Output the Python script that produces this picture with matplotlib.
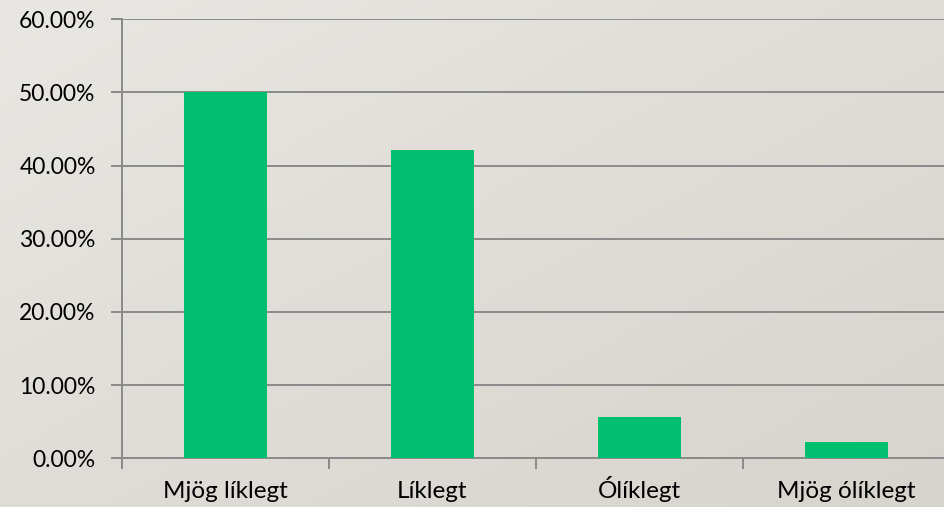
import numpy as np
import matplotlib
matplotlib.use('Agg')
import matplotlib.pyplot as plt
from matplotlib.ticker import FuncFormatter

# Dados do gráfico
categorias = ['Mjög líklegt', 'Líklegt', 'Ólíklegt', 'Mjög ólíklegt']
valores = [50.0, 42.2, 5.6, 2.2]
yticks = [0, 10, 20, 30, 40, 50, 60]

cor_barra = '#00bf6f'
cor_linha = '#8a8a8a'

plt.rcParams['font.family'] = ['Lato', 'DejaVu Sans']

fig = plt.figure(figsize=(9.45, 5.07), dpi=100)

# fundo em degradê
bg = fig.add_axes([0, 0, 1, 1], zorder=0)
xx, yy = np.meshgrid(np.linspace(0, 1, 200), np.linspace(0, 1, 200))
grad = 0.5 * xx + 0.5 * yy
bg.imshow(grad, cmap=matplotlib.colors.LinearSegmentedColormap.from_list(
    'fundo', ['#e9e7e3', '#d7d3cd']), aspect='auto', extent=[0, 1, 0, 1], origin='upper')
bg.axis('off')

ax = fig.add_axes([122 / 945, 48.7 / 507, 828 / 945, 439 / 507], zorder=1)
ax.patch.set_alpha(0)

x = np.arange(len(categorias))
ax.bar(x, valores, width=0.4, color=cor_barra, zorder=3)

ax.set_xlim(-0.5, len(categorias) - 0.5)
ax.set_ylim(0, 60)
ax.set_yticks(yticks)
ax.yaxis.set_major_formatter(FuncFormatter(lambda v, p: '%.2f%%' % v))
ax.yaxis.grid(True, color=cor_linha, linewidth=1.4, zorder=1)

# ticks do eixo x nas fronteiras, rótulos no centro
ax.set_xticks(np.arange(-0.5, len(categorias), 1.0))
ax.set_xticklabels([])
ax.set_xticks(x, minor=True)
ax.set_xticklabels(categorias, minor=True, va='baseline')
ax.tick_params(axis='x', which='major', length=8, width=1.4, color=cor_linha, direction='out')
ax.tick_params(axis='x', which='minor', length=0, pad=28.5, labelsize=17.5, labelcolor='#000000')
ax.tick_params(axis='y', length=8, width=1.4, color=cor_linha, pad=11, labelsize=16.5, labelcolor='#000000')

for lado in ['top', 'right']:
    ax.spines[lado].set_visible(False)
for lado in ['left', 'bottom']:
    ax.spines[lado].set_color(cor_linha)
    ax.spines[lado].set_linewidth(1.4)

plt.savefig('out.png', dpi=100)
